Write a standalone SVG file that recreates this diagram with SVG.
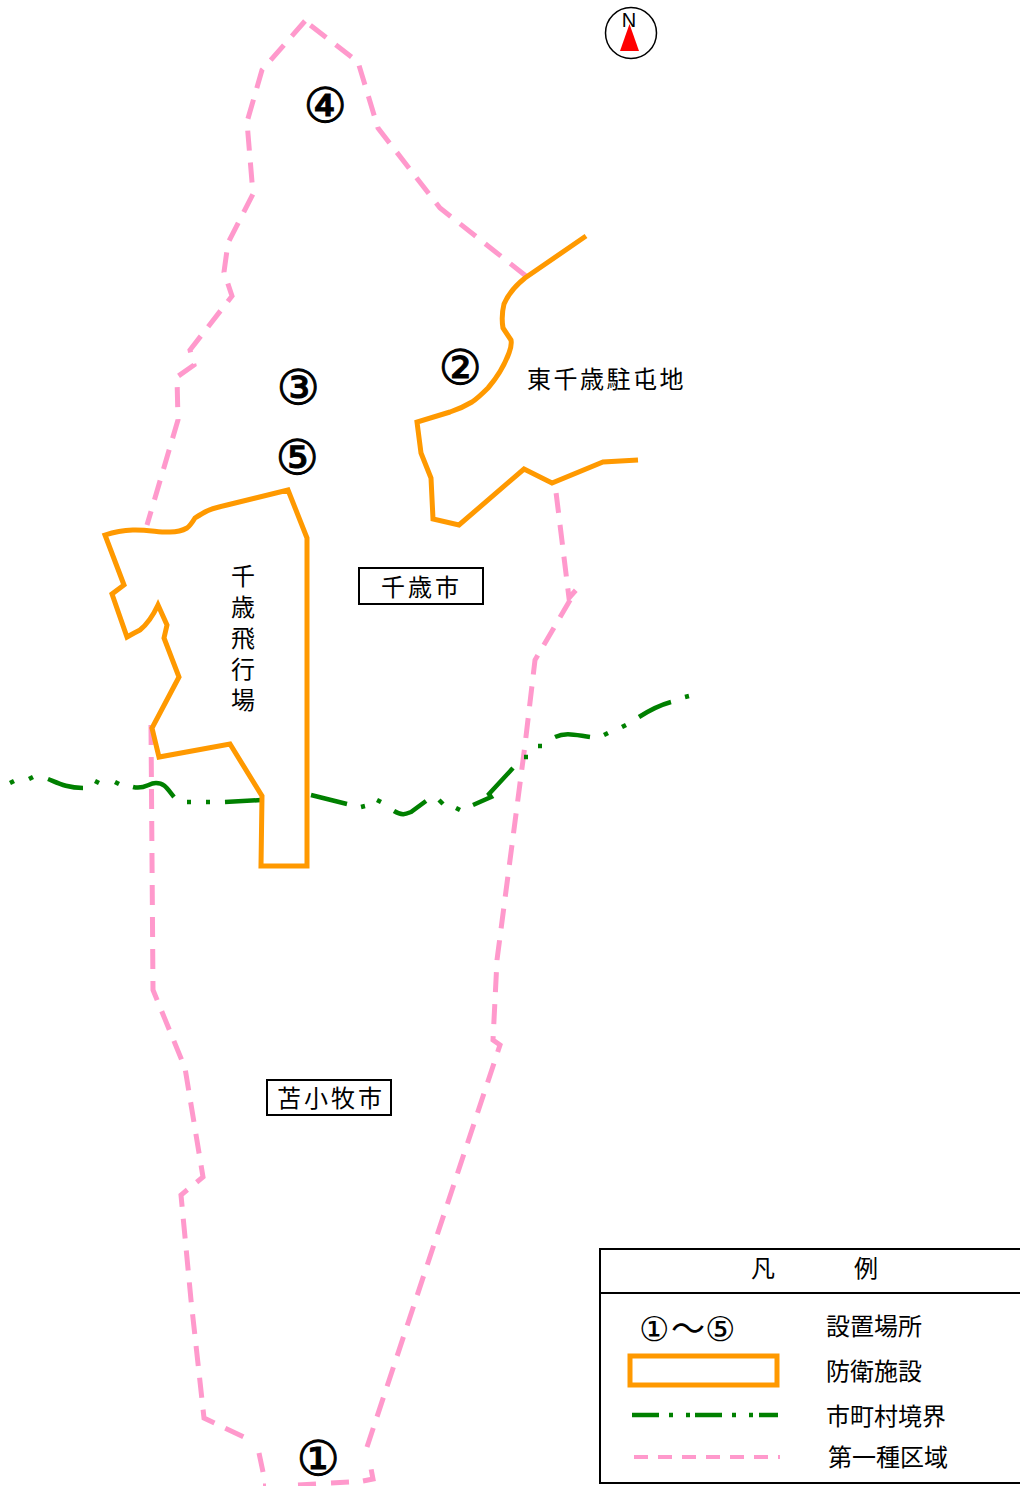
<svg xmlns="http://www.w3.org/2000/svg" width="1020" height="1486" viewBox="0 0 1020 1486">
<style>
text{font-family:"Liberation Sans","Noto Sans CJK JP",sans-serif;fill:#000}
.t{font-size:24px}
.c{font-family:"DejaVu Sans","Noto Sans CJK JP",sans-serif;font-size:48px;text-anchor:middle;stroke:#000;stroke-width:1}
.o{fill:none;stroke:#ff9900;stroke-width:5;stroke-linejoin:miter}
.p{fill:none;stroke:#ff99cc;stroke-width:5;stroke-dasharray:20 12}
.g{fill:none;stroke:#008000;stroke-width:4.500}
.b{fill:#fff;stroke:#000;stroke-width:2}
</style>
<g id="connectors">
<g id="zone-boundary">
<path class="p" d="M305 21L262 70L247 122L253 194L228 243L224 272L232 296L190 350L194 365L177 377L178 420L147 525"/>
<path class="p" d="M526 276L440 208L395 150L378 128L358 62L305 21"/>
<path class="p" d="M151 725L153 990L185 1068L203 1177L181 1195L191 1300L204 1418L250 1440"/>
<path class="p" d="M259 1453L263 1472M263 1486H266M298 1485L316 1484M331 1483L349 1482M363 1481L373 1479L369 1458"/>
<path class="p" d="M367 1447L500 1045L493 1040L497 960L525 745L535 660L576 590L569 598L555 484"/>
</g>
<g id="municipal-boundary">
<path class="g" d="M10 783L14 781M29 779L33 777M95 781L99 783M115 782L119 784M187 802L191 802M206 802L210 802M361 807L365 806M377 800L381 802M439 800L443 804M456 808L460 810M524 757L528 757M538 746L542 746M604 735L608 733M622 727L626 725M685 697L689 696"/>
<path class="g" d="M48 779C58 783 67 788 83 788M133 787C145 790 148 783 156 783C165 783 168 790 174 797M225 802L261 800M311 795L347 804M394 811C402 816 406 814 411 812L426 801M473 805L491 797L489 794L513 768M555 737C566 732 575 735 590 737M639 717C650 710 660 705 671 702"/>
</g>
<g id="defence">
<path class="o" d="M586 236L525 278Q510 290 504 304Q501 316 503 328L511 340Q512 345 509 353Q502 372 488 388Q478 398 472 402Q462 408 450 412L417 422L421 453L431 478L433 519L459 525L524 469L552 483L603 462L638 460"/>
<path class="o" d="M307 866L307 538L288 490L227 505Q210 509 205 512Q198 516 195 518Q190 526 187 528Q180 532 170 532C155 533 135 525 105 535L124 585L112 594L127 637Q134 633 140 630Q150 622 158 605L167 625L164 638L179 677L152 728L159 757L230 744L262 796L261 866Z"/>
</g>
</g>
<g id="north"><circle cx="631" cy="33" r="25.500" fill="#fff" stroke="#000" stroke-width="1.500"/><path d="M629.500 24L620 51H639Z" fill="#f00"/><text x="629" y="27" font-size="20" text-anchor="middle">N</text></g>
<g id="site4"><text class="c" x="325" y="122">④</text></g>
<g id="site2"><text class="c" x="460" y="384">②</text></g>
<g id="site3"><text class="c" x="298" y="404">③</text></g>
<g id="site5"><text class="c" x="297" y="474">⑤</text></g>
<g id="site1"><text class="c" x="318" y="1475">①</text></g>
<g id="higashi-chitose"><text class="t" x="527" y="388" letter-spacing="2.500">東千歳駐屯地</text></g>
<g id="chitose-airfield"><text class="t" text-anchor="middle" x="243" y="585">千</text><text class="t" text-anchor="middle" x="243" y="616">歳</text><text class="t" text-anchor="middle" x="243" y="647">飛</text><text class="t" text-anchor="middle" x="243" y="678">行</text><text class="t" text-anchor="middle" x="243" y="709">場</text></g>
<g id="chitose-city"><rect class="b" x="359" y="568" width="124" height="36"/><text class="t" x="381" y="596" letter-spacing="3">千歳市</text></g>
<g id="tomakomai-city"><rect class="b" x="267" y="1080" width="124" height="35"/><text class="t" x="277" y="1107" letter-spacing="3">苫小牧市</text></g>
<g id="legend">
<rect class="b" x="600" y="1249" width="430" height="234"/>
<path d="M600 1293H1020" stroke="#000" stroke-width="2"/>
<text class="t" x="751" y="1277">凡</text><text class="t" x="854" y="1277">例</text>
<text font-size="34" style="font-family:'DejaVu Sans','Noto Sans CJK JP',sans-serif" y="1341"><tspan x="639">①</tspan><tspan x="671">～</tspan><tspan x="705">⑤</tspan></text>
<text class="t" x="826" y="1335">設置場所</text>
<rect x="630" y="1356" width="147" height="29" fill="#fff" stroke="#ff9900" stroke-width="5"/>
<text class="t" x="826" y="1380">防衛施設</text>
<path class="g" stroke-width="4" d="M632 1415H659M669 1415H673M686 1415H690M695 1415H722M732 1415H736M749 1415H753M759 1415H778"/>
<text class="t" x="826" y="1425">市町村境界</text>
<path d="M634 1457H780" stroke="#ff99cc" stroke-width="4" stroke-dasharray="14 10" fill="none"/>
<text class="t" x="828" y="1466">第一種区域</text>
</g>
</svg>
